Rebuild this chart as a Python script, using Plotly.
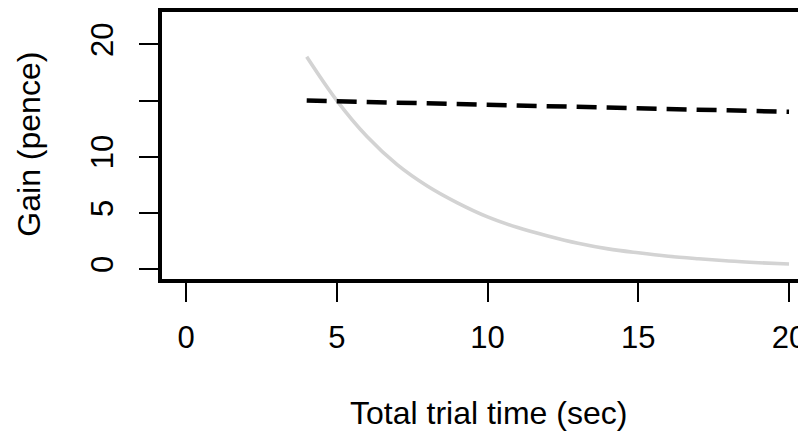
import plotly.graph_objects as go

# Data
curve_x = [4, 5, 6, 7, 8, 9, 10, 11, 12, 13, 14, 15, 16, 17, 18, 19, 20]
curve_y = [18.9, 15.0, 11.8, 9.3, 7.4, 5.9, 4.65, 3.7, 2.95, 2.3, 1.8, 1.45, 1.15, 0.92, 0.72, 0.57, 0.45]
dash_x = [4, 20]
dash_y = [15.0, 14.0]

x_ticks = [0, 5, 10, 15, 20]
x_ticktext = ["0", "5", "10", "15", "20"]
y_ticks = [0, 5, 10, 15, 20]
y_ticktext = ["0", "5", "10", "", "20"]

x_title = "Total trial time (sec)"
y_title = "Gain (pence)"

FONT = "Liberation Sans, Arial, Helvetica, sans-serif"

fig = go.Figure()
fig.add_trace(go.Scatter(x=curve_x, y=curve_y, mode="lines",
                         line=dict(color="#d3d3d3", width=3.6, shape="spline"),
                         showlegend=False, hoverinfo="skip"))
fig.add_trace(go.Scatter(x=dash_x, y=dash_y, mode="lines",
                         line=dict(color="#000000", width=4.5, dash="20px,10px"),
                         showlegend=False, hoverinfo="skip"))

fig.update_layout(
    width=798, height=426, autosize=False,
    margin=dict(l=154, r=0, t=2, b=155, pad=0),
    paper_bgcolor="white", plot_bgcolor="white",
    font=dict(family=FONT, size=30, color="black"),
    xaxis=dict(range=[-0.8, 20.53], tickvals=x_ticks, ticktext=x_ticktext,
               showgrid=False, zeroline=False,
               showline=True, mirror=True, linecolor="black", linewidth=3.5,
               ticks="outside", ticklen=19, tickwidth=1.6, tickcolor="black",
               ticklabelstandoff=9, ticklabeloverflow="allow",
               tickfont=dict(family=FONT, size=31, color="black")),
    yaxis=dict(range=[-0.88, 22.88], tickvals=y_ticks, ticktext=y_ticktext,
               showgrid=False, zeroline=False,
               showline=True, mirror=False, linecolor="black", linewidth=3.5,
               ticks="outside", ticklen=19, tickwidth=1.6, tickcolor="black",
               tickangle=-90, ticklabelstandoff=14, ticklabeloverflow="allow",
               tickfont=dict(family=FONT, size=31, color="black")),
    annotations=[
        dict(text=x_title, xref="paper", yref="paper", x=0.5078, y=-0.502,
             xanchor="center", yanchor="middle", showarrow=False,
             font=dict(family=FONT, size=32, color="black")),
        dict(text=y_title, xref="paper", yref="paper", x=-0.2065, y=0.504,
             xanchor="center", yanchor="middle", showarrow=False, textangle=-90,
             font=dict(family=FONT, size=32, color="black")),
    ],
)

fig.write_html("out.html")
